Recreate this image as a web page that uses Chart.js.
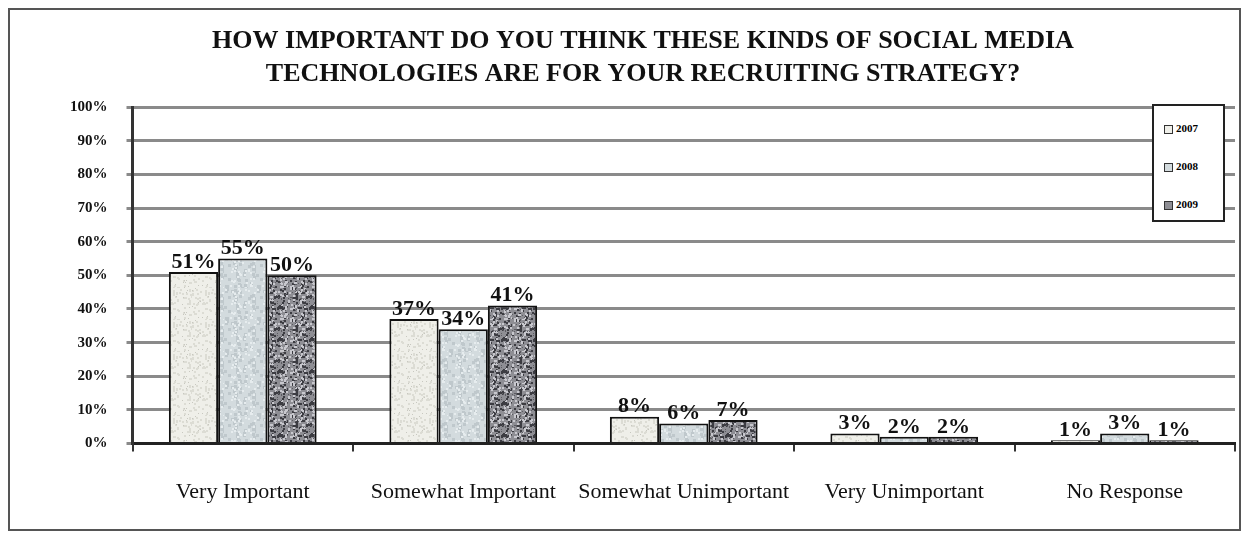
<!DOCTYPE html>
<html><head><meta charset="utf-8">
<script src="https://cdn.jsdelivr.net/npm/chart.js@4.4.1/dist/chart.umd.min.js"></script>
<style>
html,body{margin:0;padding:0;background:#fff;}
#frame{position:absolute;left:8px;top:8px;width:1233px;height:523px;border:2px solid #555;box-sizing:border-box;}
#wrap{position:absolute;left:0;top:0;width:1249px;height:539px;}
#legend{position:absolute;left:1152px;top:104px;width:73px;height:118px;border:2px solid #222;background:#fff;box-sizing:border-box;font-family:"Liberation Serif",serif;font-size:11px;font-weight:bold;}
#legend div{position:absolute;left:10px;height:12px;line-height:12px;}
#legend span{display:inline-block;width:7px;height:7px;border:1.5px solid #333;margin-right:3px;vertical-align:middle;}
</style></head>
<body>
<div id="wrap"><canvas id="c" width="1249" height="539"></canvas></div>
<div id="frame"></div>
<div id="legend"></div>
<script>
const categories = ["Very Important", "Somewhat Important", "Somewhat Unimportant", "Very Unimportant", "No Response"];
const seriesNames = ["2007", "2008", "2009"];
const values2007 = [51, 37, 8, 3, 1];
const values2008 = [55, 34, 6, 2, 3];
const values2009 = [50, 41, 7, 2, 1];
const yTicks = [0, 10, 20, 30, 40, 50, 60, 70, 80, 90, 100];
const titleLines = ["HOW IMPORTANT DO YOU THINK THESE KINDS OF SOCIAL MEDIA", "TECHNOLOGIES ARE FOR YOUR RECRUITING STRATEGY?"];

const baseColors = ["#efefe9", "#d3dbde", "#8e8e94"];

// deterministic speckle textures (styling only)
function hash(n) { const s = Math.sin(n * 12.9898) * 43758.5453; return s - Math.floor(s); }
function makePattern(base, dots, seed) {
  const cv = document.createElement('canvas');
  cv.width = 32; cv.height = 32;
  const g = cv.getContext('2d');
  g.fillStyle = base; g.fillRect(0, 0, 32, 32);
  let k = seed;
  dots.forEach(([col, count, size]) => {
    g.fillStyle = col;
    for (let i = 0; i < count; i++) {
      const x = Math.floor(hash(k++) * 32), y = Math.floor(hash(k++) * 32);
      g.fillRect(x, y, size, size);
    }
  });
  return g.createPattern(cv, 'repeat');
}
const fills = [
  makePattern(baseColors[0], [["#dcdcd4", 60, 2], ["#c8c8c0", 20, 1]], 1),
  makePattern(baseColors[1], [["#bfc8cc", 40, 3], ["#e6ecee", 40, 2]], 500),
  makePattern(baseColors[2], [["#3c3c42", 90, 2], ["#c8c8ce", 70, 2], ["#5c5c62", 60, 1]], 900)
];

const lg = document.getElementById('legend');
seriesNames.forEach((n, i) => {
  const d = document.createElement('div');
  d.style.top = (16 + i * 38) + 'px';
  d.innerHTML = '<span style="background:' + baseColors[i] + '"></span>' + n;
  lg.appendChild(d);
});

const labelPlugin = {
  id: 'valLabels',
  afterDatasetsDraw(chart) {
    const ctx = chart.ctx;
    ctx.save();
    ctx.font = 'bold 22px "Liberation Serif", serif';
    ctx.fillStyle = '#111';
    ctx.textAlign = 'center';
    ctx.textBaseline = 'bottom';
    chart.data.datasets.forEach((ds, di) => {
      chart.getDatasetMeta(di).data.forEach((bar, i) => {
        ctx.fillText(ds.data[i] + '%', bar.x, bar.y + 1);
      });
    });
    ctx.restore();
  }
};

new Chart(document.getElementById('c'), {
  type: 'bar',
  data: {
    labels: categories,
    datasets: [values2007, values2008, values2009].map((v, i) => ({
      label: seriesNames[i],
      data: v,
      backgroundColor: fills[i],
      borderColor: '#111',
      borderWidth: 2,
      categoryPercentage: 0.67,
      barPercentage: 1.0
    }))
  },
  options: {
    responsive: false,
    animation: false,
    layout: { padding: { left: 51, right: 14, top: 25, bottom: 7 } },
    plugins: {
      legend: { display: false },
      tooltip: { enabled: false },
      title: {
        display: true,
        text: titleLines,
        color: '#111',
        font: { family: '"Liberation Serif", serif', size: 26, weight: 'bold', lineHeight: 1.27 },
        padding: { top: 0, bottom: 16 }
      }
    },
    scales: {
      x: {
        grid: { display: true, offset: true, drawOnChartArea: false, color: '#333', lineWidth: 2, tickLength: 8 },
        border: { color: '#222', width: 3 },
        ticks: { color: '#111', font: { family: '"Liberation Serif", serif', size: 22 }, padding: 27, maxRotation: 0 }
      },
      y: {
        min: 0, max: 100,
        afterBuildTicks(axis) { axis.ticks = yTicks.map(v => ({ value: v })); },
        grid: { color: '#8a8a8a', lineWidth: 3, tickLength: 6, drawTicks: true },
        border: { color: '#333', width: 3 },
        ticks: { color: '#111', font: { family: '"Liberation Serif", serif', size: 15, weight: 'bold' }, padding: 19, callback: v => v + '%' }
      }
    }
  },
  plugins: [labelPlugin]
});
</script>
</body></html>
